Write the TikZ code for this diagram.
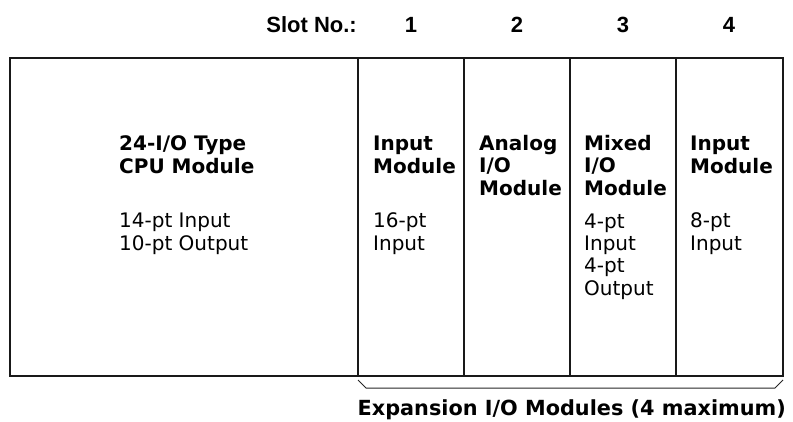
\documentclass[tikz,border=0pt]{standalone}
\usepackage{fontspec}
\setmainfont{DejaVu Sans}
\newfontfamily\slotfont{Liberation Sans}
\begin{document}
\begin{tikzpicture}[x=1pt,y=-1pt,
  boxline/.style={line width=2pt,draw=black!90},
  title/.style={anchor=base west,inner sep=0pt,align=left,font=\fontsize{20}{22.5}\selectfont\bfseries},
  detail/.style={anchor=base west,inner sep=0pt,align=left,font=\fontsize{20}{22.3}\selectfont},
  slotlbl/.style={anchor=base,inner sep=0pt,font=\fontsize{22}{24}\selectfont\slotfont\bfseries},
  bracel/.style={line width=1pt,draw=black!85}]
\useasboundingbox (0,0) rectangle (793,421);
% frame
\draw[boxline] (10,58) rectangle (783,376);
\coordinate (d1t) at (358,58); \coordinate (d1b) at (358,376);
\coordinate (d2t) at (464,58); \coordinate (d2b) at (464,376);
\coordinate (d3t) at (570,58); \coordinate (d3b) at (570,376);
\coordinate (d4t) at (676,58); \coordinate (d4b) at (676,376);
\draw[boxline] (d1t) -- (d1b);
\draw[boxline] (d2t) -- (d2b);
\draw[boxline] (d3t) -- (d3b);
\draw[boxline] (d4t) -- (d4b);
% slot row
\node[slotlbl,anchor=base east] (slot) at (357,32) {Slot No.:};
\node[slotlbl] (s1) at (411,32) {1};
\node[slotlbl] (s2) at (517,32) {2};
\node[slotlbl] (s3) at (623,32) {3};
\node[slotlbl] (s4) at (729,32) {4};
% CPU (anchor = baseline of last line)
\node[title] (cpuT) at (119,173) {24-I/O Type\\CPU Module};
\node[detail] (cpuD) at (119,250) {14-pt Input\\10-pt Output};
% modules
\node[title] (m1T) at (373,173) {Input\\Module};
\node[detail] (m1D) at (373,250) {16-pt\\Input};
\node[title] (m2T) at (479,195) {Analog\\I/O\\Module};
\node[title] (m3T) at (584,195) {Mixed\\I/O\\Module};
\node[detail] (m3D) at (584,295) {4-pt\\Input\\4-pt\\Output};
\node[title] (m4T) at (690,173) {Input\\Module};
\node[detail] (m4D) at (690,250) {8-pt\\Input};
% brace
\coordinate (bl) at (358,380);
\coordinate (br) at (783,380);
\draw[bracel] (bl) -- (366,388) -- (775,388) -- (br);
\node[anchor=base east,inner sep=0pt,font=\fontsize{20.8}{24}\selectfont\bfseries] (exp) at (786,415) {Expansion I/O Modules (4 maximum)};
\end{tikzpicture}
\end{document}
